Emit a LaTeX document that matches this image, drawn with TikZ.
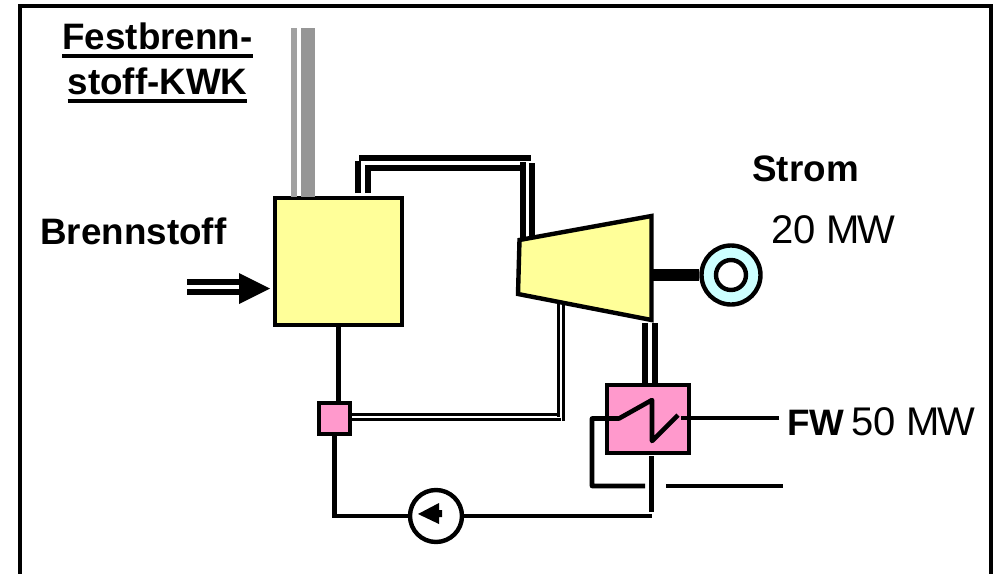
\documentclass[tikz,border=0pt]{standalone}
\usepackage{fontspec}
\setmainfont{Liberation Sans}
\definecolor{kessel}{HTML}{FFFF99}
\definecolor{rosa}{HTML}{FF99CC}
\definecolor{gen}{HTML}{CCFFFF}
\newcommand{\ultext}[1]{\setbox0=\hbox{#1}\rlap{\rule[-4.5pt]{\wd0}{2pt}}\box0}
\tikzset{
    lab/.style={font=\fontsize{18.4}{18.4}\selectfont\bfseries,inner sep=0pt},
    val/.style={font=\fontsize{20}{20}\selectfont,inner sep=0pt},
    box/.style={draw,line width=2.2pt,inner sep=0pt},
    steam/.style={line width=3pt},
    water/.style={line width=2.3pt},
    exh/.style={line width=1.5pt}
}
\begin{document}
\begin{tikzpicture}[x=0.5pt,y=-0.5pt]
    \useasboundingbox (0,0) rectangle (998,574);
    \draw[line width=2pt] (20,574) -- (20,6) -- (991,6) -- (991,574);

    \node[lab,anchor=base] (1) at (157.5,49) {\ultext{Festbrenn-}};
    \node[lab,anchor=base] (2) at (157.5,94) {\ultext{stoff-KWK}};
    \node[lab,anchor=base west] (3) at (40,244) {Brennstoff};
    \node[lab,anchor=base west] (4) at (752,181) {Strom};
    \node[val,anchor=base west] (5) at (771,243) {20 M\kern-1.2pt W};
    \node[lab,anchor=base west] (6) at (787,435) {FW};
    \node[val,anchor=base west] (7) at (851,435) {50 M\kern-1.2pt W};

    \node[box,fill=kessel,minimum width=63.5pt,minimum height=63.5pt] (boiler) at (338.5,261.5) {};
    \node[box,fill=rosa,minimum width=15.5pt,minimum height=15.5pt] (mix) at (334.5,418.5) {};
    \node[box,fill=rosa,minimum width=41pt,minimum height=34pt] (hx) at (648,419) {};
    \node[circle,box,fill=gen,minimum size=29.5pt] (gen) at (731,275) {};
    \node[circle,box,fill=white,minimum size=15pt] (rotor) at (731,275) {};
    \node[circle,box,fill=white,minimum size=26pt] (pump) at (436,516) {};

    \coordinate (t1) at (519.5,240);
    \coordinate (t2) at (651.5,216);
    \coordinate (t3) at (651.5,320);
    \coordinate (t4) at (518,294);
    \draw[line width=2.2pt,fill=kessel,line join=miter] (t1) -- (t2) -- (t3) -- (t4) -- cycle;

    % rauchgas
    \fill[black!37] (291,28) rectangle (297,197);
    \fill[black!41] (301,28) rectangle (315,197);

    % frischdampf
    \coordinate (a1) at (358,193);
    \coordinate (a2) at (358,158);
    \coordinate (a3) at (531,158);
    \coordinate (b1) at (367.5,193);
    \coordinate (b2) at (367.5,168);
    \coordinate (c1) at (522.5,162);
    \coordinate (c2) at (522.5,241);
    \coordinate (d1) at (532,163);
    \coordinate (d2) at (532,239);
    \draw[steam] (a1) -- (a2 |- 0,161);
    \draw[steam] (359,158) -- (a3);
    \draw[steam] (b1) -- (b2) -- (c1 |- b2);
    \draw[steam] (c1) -- (c2);
    \draw[steam] (d1) -- (d2);

    % abdampf
    \coordinate (e1) at (645,323);
    \coordinate (f1) at (655,323);
    \draw[steam] (e1) -- (e1 |- hx.north);
    \draw[steam] (f1) -- (f1 |- hx.north);

    % welle
    \draw[line width=6pt] (t2 |- gen.west) -- (gen.west);

    % anzapfung
    \coordinate (g1) at (558.5,303);
    \coordinate (g2) at (558.5,417);
    \coordinate (h1) at (563.5,303);
    \coordinate (h2) at (563.5,420.5);
    \draw[exh] (g1) -- (g2);
    \draw[exh] (h1) -- (h2);
    \draw[exh] (mix.east |- 0,414.5) -- (560,414.5);
    \draw[exh] (mix.east |- 0,419.5) -- (561,419.5);

    % speisewasser
    \draw[water] (boiler.south) -- (boiler.south |- mix.north);
    \draw[water] (mix.south) |- (pump.west);
    \coordinate (k1) at (651.5,516);
    \draw[water] (pump.east) -- (k1);
    \draw[water] (651.5,456) -- (651.5,512);
    \fill (418,514) -- (439,503) -- (439,510) -- (442,510) -- (442,517) -- (439,517) -- (439,524) -- cycle;

    % heizkondensator
    \coordinate (m1) at (592,418.5);
    \coordinate (m2) at (592,486);
    \coordinate (m3) at (645,486);
    \draw[water,line join=round] (m3) -- (m2) -- (m1) -- (619,418.5) -- (652,400) -- (652,441) -- (678,415);
    \coordinate (n1) at (666,486);
    \coordinate (n2) at (783,486);
    \draw[water] (n1) -- (n2);
    \coordinate (o1) at (681,418);
    \coordinate (o2) at (779,418);
    \draw[water] (o1) -- (o2);

    % brennstoff
    \coordinate (p1) at (187,281.5);
    \coordinate (p2) at (187,291.5);
    \draw[steam] (p1) -- (240,281.5);
    \draw[steam] (p2) -- (240,291.5);
    \fill (239,273) -- (270,288.5) -- (239,304) -- cycle;
\end{tikzpicture}
\end{document}
